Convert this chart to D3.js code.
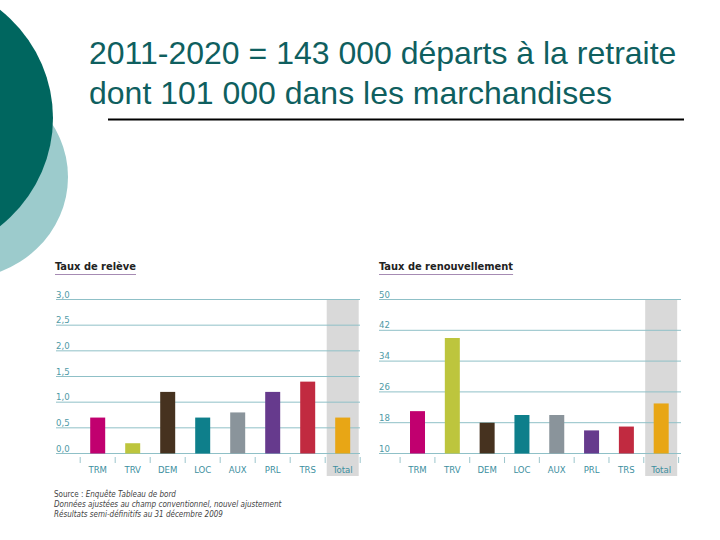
<!DOCTYPE html>
<html><head><meta charset="utf-8">
<script src="https://cdn.jsdelivr.net/npm/d3@7/dist/d3.min.js"></script>
<style>body{margin:0;background:#fff}svg{display:block}</style>
</head><body>
<svg id="c" width="720" height="540"></svg>
<script>
const categories = ["TRM","TRV","DEM","LOC","AUX","PRL","TRS","Total"];
const colors = ["#c1006f","#bdc53d","#46321f","#0e7f8b","#8a949b","#663a8d","#c12a40","#e8a615"];
const releveValues = [0.7, 0.2, 1.2, 0.7, 0.8, 1.2, 1.4, 0.7];
const releveTicks = [0, 0.5, 1.0, 1.5, 2.0, 2.5, 3.0];
const renouvValues = [21, 40, 18, 20, 20, 16, 17, 23];
const renouvTicks = [10, 18, 26, 34, 42, 50];
const titleLines = ["2011-2020 = 143 000 départs à la retraite", "dont 101 000 dans les marchandises"];
const notes = [["Source : ", "Enquête Tableau de bord"], ["", "Données ajustées au champ conventionnel, nouvel ajustement"], ["", "Résultats semi-définitifs au 31 décembre 2009"]];

const svg = d3.select("#c");
// background decoration
svg.append("ellipse").attr("cx",-40).attr("cy",177).attr("rx",108).attr("ry",102).attr("fill","#9ccbcc");
svg.append("ellipse").attr("cx",-92).attr("cy",118).attr("rx",145).attr("ry",140).attr("fill","#00665f");

// title
const tf = "Liberation Sans, Arial, sans-serif";
titleLines.forEach((s,i)=>svg.append("text").attr("x",89).attr("y",64+i*40)
  .attr("font-family",tf).attr("font-size",32).attr("fill","#0f5f5f").text(s));
svg.append("line").attr("x1",108).attr("x2",684).attr("y1",119.5).attr("y2",119.5).attr("stroke","#000").attr("stroke-width",2);

const cf = "DejaVu Sans Condensed, DejaVu Sans, sans-serif";
function chart(opt){
  const g = svg.append("g");
  const x = d3.scaleBand().domain(categories).range(opt.xr).paddingInner(0).paddingOuter(0);
  const y = d3.scaleLinear().domain(opt.dom).range([453.5, 299.5]);
  // total band
  g.append("rect").attr("x", x("Total")+x.bandwidth()/2-16).attr("width",32)
    .attr("y", y(opt.dom[1])).attr("height", 476 - y(opt.dom[1])).attr("fill","#d9d9d9");
  // gridlines
  g.selectAll("line.grid").data(opt.ticks).join("line").attr("class","grid")
    .attr("x1",opt.gx[0]).attr("x2",opt.gx[1]).attr("y1",d=>y(d)).attr("y2",d=>y(d))
    .attr("stroke","#8fc0c7").attr("stroke-width",1);
  g.selectAll("text.tick").data(opt.ticks).join("text").attr("class","tick")
    .attr("x",opt.gx[0]).attr("y",d=>y(d)-2).attr("font-family",cf).attr("font-size",9.5)
    .attr("fill","#4f9aa6").text(opt.fmt);
  // bars
  g.selectAll("rect.bar").data(opt.values).join("rect").attr("class","bar")
    .attr("x",(d,i)=>x(categories[i])+x.bandwidth()/2-7.5).attr("width",15)
    .attr("y",d=>y(d)).attr("height",d=>y(opt.dom[0])-y(d)).attr("fill",(d,i)=>colors[i]);
  // separators
  const seps = categories.map(c=>x(c)).concat([opt.xr[1]]);
  g.selectAll("line.sep").data(seps).join("line").attr("class","sep")
    .attr("x1",d=>d).attr("x2",d=>d).attr("y1",457).attr("y2",463)
    .attr("stroke","#9cc6cc").attr("stroke-width",1);
  g.selectAll("text.cat").data(categories).join("text").attr("class","cat")
    .attr("x",d=>x(d)+x.bandwidth()/2).attr("y",473).attr("text-anchor","middle")
    .attr("font-family",cf).attr("font-size",9.5).attr("fill","#3d8fa0").text(d=>d);
  // chart title
  const tt = g.append("text").attr("x",opt.tx).attr("y",270).attr("font-family",cf)
    .attr("font-size",11).attr("font-weight","bold").attr("fill","#222").text(opt.title);
  const w = tt.node().getComputedTextLength();
  g.append("line").attr("x1",opt.tx).attr("x2",opt.tx+w).attr("y1",274.5).attr("y2",274.5)
    .attr("stroke","#a68bb3").attr("stroke-width",1);
}
chart({xr:[80.2,360.2], gx:[56,360], dom:[0,3], ticks:releveTicks, values:releveValues,
  fmt:d=>d3.format(".1f")(d).replace(".",","), title:"Taux de relève", tx:55});
chart({xr:[400.1,678.6], gx:[379,681], dom:[10,50], ticks:renouvTicks, values:renouvValues,
  fmt:d=>String(d), title:"Taux de renouvellement", tx:379});

// notes
notes.forEach((n,i)=>{
  const nt = svg.append("text").attr("x",54).attr("y",497+i*10).attr("font-family",cf)
    .attr("font-size",8).attr("fill","#444");
  if (n[0]) nt.append("tspan").text(n[0]);
  nt.append("tspan").attr("font-style","italic").text(n[1]);
});
</script>
</body></html>
